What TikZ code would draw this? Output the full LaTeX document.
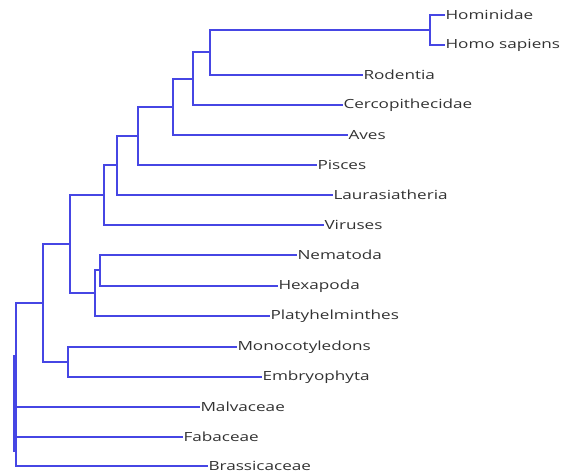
\documentclass[tikz,border=0pt]{standalone}
\usepackage{fontspec}
\setmainfont[FakeStretch=1.36]{Open Sans}
\definecolor{branch}{RGB}{70,70,228}
\definecolor{labeltext}{RGB}{50,50,50}
\begin{document}
\begin{tikzpicture}[x=1pt,y=-1pt,
  branchline/.style={draw=branch,line width=1.7pt},
  leaf/.style={anchor=west,inner xsep=0.5pt,inner ysep=0pt,outer sep=0pt,text=labeltext,font=\fontsize{12.6}{14}\selectfont}]
\useasboundingbox (0,0) rectangle (562,476);
% leaves
\node[leaf] (hom) at (445,15) {Hominidae};
\node[leaf] (hsa) at (445,45) {Homo sapiens};
\node[leaf] (rod) at (363,75) {Rodentia};
\node[leaf] (cer) at (343,105) {Cercopithecidae};
\node[leaf] (ave) at (348,135) {Aves};
\node[leaf] (pis) at (317,165) {Pisces};
\node[leaf] (lau) at (333,195) {Laurasiatheria};
\node[leaf] (vir) at (324,225) {Viruses};
\node[leaf] (nem) at (297,255) {Nematoda};
\node[leaf] (hex) at (278,286) {Hexapoda};
\node[leaf] (pla) at (270,316) {Platyhelminthes};
\node[leaf] (mon) at (237,347) {Monocotyledons};
\node[leaf] (emb) at (262,377) {Embryophyta};
\node[leaf] (mal) at (200,407) {Malvaceae};
\node[leaf] (fab) at (183,437) {Fabaceae};
\node[leaf] (bra) at (208,466) {Brassicaceae};
% internal nodes
\coordinate (n1) at (430,30);
\coordinate (n2) at (210,52);
\coordinate (n3) at (193,79);
\coordinate (n4) at (173,107);
\coordinate (n5) at (138,136);
\coordinate (n6) at (117,165);
\coordinate (n7) at (104,195);
\coordinate (n8) at (100,270);
\coordinate (n9) at (95,293);
\coordinate (n10) at (70,244);
\coordinate (n11) at (68,362);
\coordinate (n12) at (43,303);
\coordinate (root) at (16,384);
\coordinate (ra) at (14.5,355);
\coordinate (rb) at (14.5,452);
% branches
\draw[branchline] (n1) |- (hom.west);
\draw[branchline] (n1) |- (hsa.west);
\draw[branchline] (n2) |- (n1);
\draw[branchline] (n2) |- (rod.west);
\draw[branchline] (n3) |- (n2);
\draw[branchline] (n3) |- (cer.west);
\draw[branchline] (n4) |- (n3);
\draw[branchline] (n4) |- (ave.west);
\draw[branchline] (n5) |- (n4);
\draw[branchline] (n5) |- (pis.west);
\draw[branchline] (n6) |- (n5);
\draw[branchline] (n6) |- (lau.west);
\draw[branchline] (n7) |- (n6);
\draw[branchline] (n7) |- (vir.west);
\draw[branchline] (n8) |- (nem.west);
\draw[branchline] (n8) |- (hex.west);
\draw[branchline] (n9) |- (n8);
\draw[branchline] (n9) |- (pla.west);
\draw[branchline] (n10) |- (n7);
\draw[branchline] (n10) |- (n9);
\draw[branchline] (n11) |- (mon.west);
\draw[branchline] (n11) |- (emb.west);
\draw[branchline] (n12) |- (n10);
\draw[branchline] (n12) |- (n11);
\draw[branchline] (root) |- (n12);
\draw[branchline] (root) |- (mal.west);
\draw[branchline] (root) |- (fab.west);
\draw[branchline] (root) |- (bra.west);
\draw[branchline,line width=2.2pt] (ra) -- (rb);
\end{tikzpicture}
\end{document}
